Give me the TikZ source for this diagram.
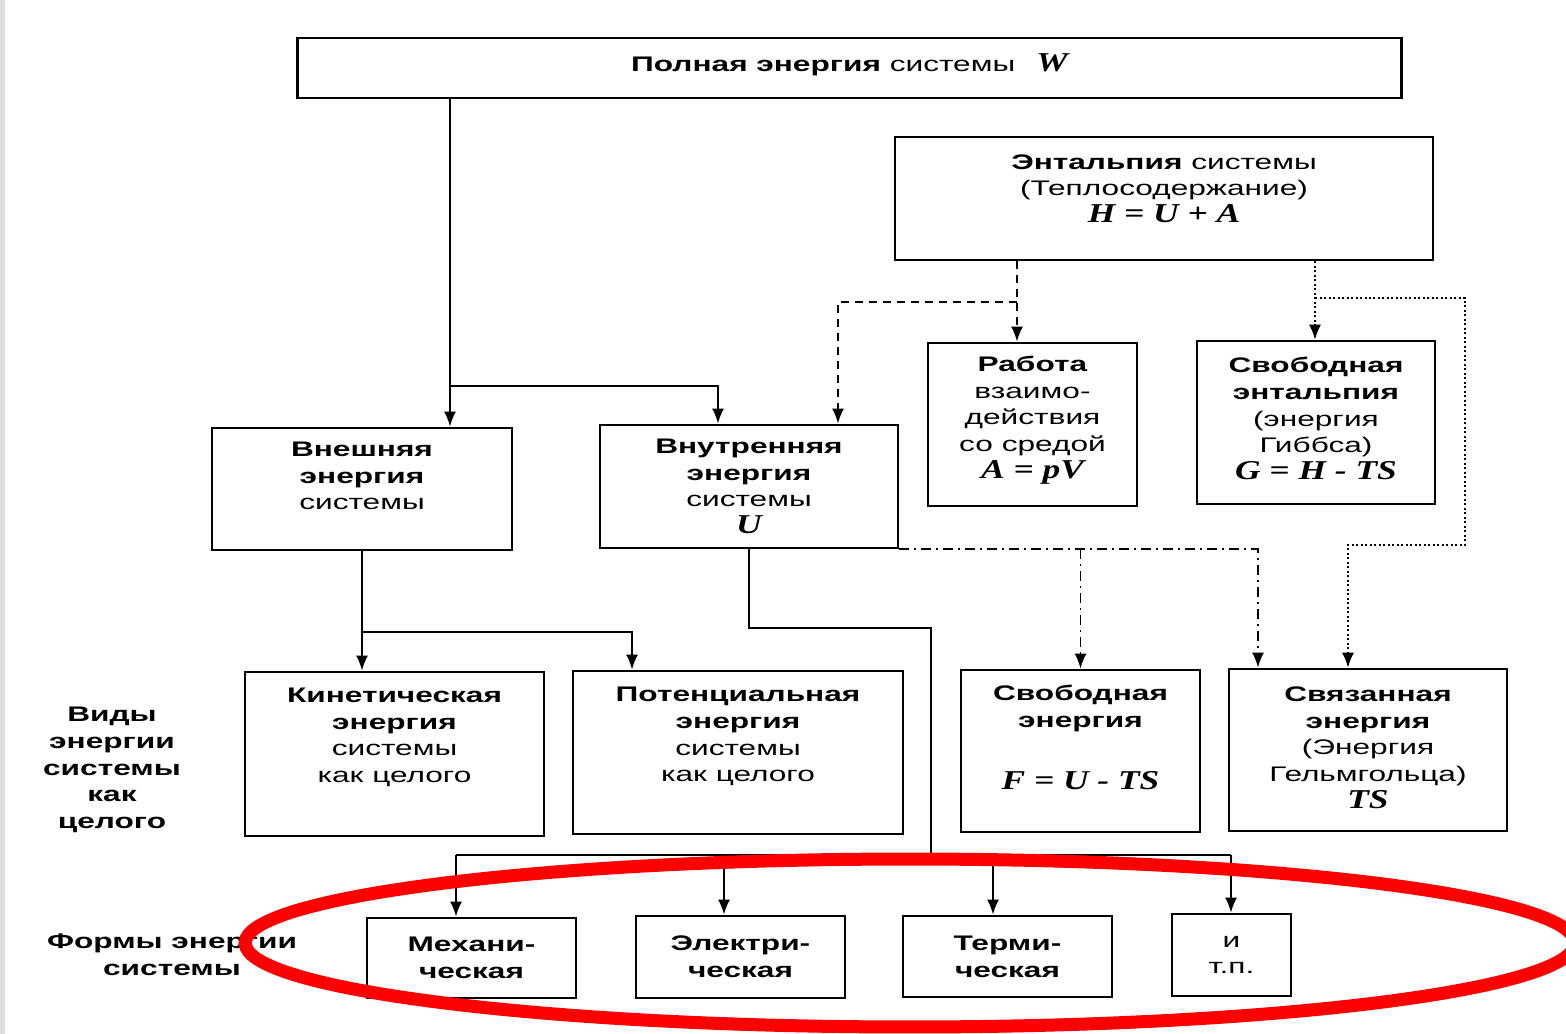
\documentclass[tikz,border=0pt]{standalone}
\usepackage{fontspec}
\setmainfont{Liberation Sans}[FakeStretch=1.5]
\newfontfamily\formfont{Liberation Serif}[FakeStretch=1.3]
\usepackage{tikz}
\usetikzlibrary{arrows.meta}
\newcommand{\fml}[1]{{\formfont\bfseries\itshape\fontsize{15.5}{16}\selectfont #1}}
\newcommand{\dn}[1]{\rule[-#1]{0pt}{0pt}}
\tikzset{
  box/.style={draw, line width=1.6pt, align=center, inner sep=0pt, font=\fontsize{12}{15.2}\selectfont},
  lab/.style={align=center, font=\bfseries\fontsize{12}{15.2}\selectfont},
  line/.style={line width=1.1pt},
  con/.style={line, -{Latex[length=0.3cm, width=0.24cm]}},
  dashcon/.style={con, dash pattern=on 0.16cm off 0.12cm},
  dotcon/.style={con, line width=0.9pt, dash pattern=on 0.04cm off 0.05cm},
  dashdotcon/.style={con, dash pattern=on 0.2cm off 0.1cm on 0.04cm off 0.1cm},
}

\begin{document}
\begin{tikzpicture}[x=0.02cm, y=-0.02cm]
	\useasboundingbox (0,0) rectangle (1566,1034);
	\clip (0,0) rectangle (1566,1034);
	\fill[gray!25] (0,0) rectangle (5,1034);
	% boxes
	\node[box, minimum width=22.1cm, minimum height=1.2cm] (full) at (849.5,68) {\textbf{Полная энергия} системы\quad\fml{W}\dn{0.2cm}};
	\node[box, minimum width=10.76cm, minimum height=2.46cm] (enth) at (1164,198.5) {\textbf{Энтальпия} системы\\(Теплосодержание)\\\fml{H = U + A}\dn{0.4cm}};
	\node[box, minimum width=4.18cm, minimum height=3.26cm] (work) at (1032.5,424.5) {\textbf{Работа}\\взаимо-\\действия\\со средой\\\fml{A = pV}\dn{0.3cm}};
	\node[box, minimum width=4.76cm, minimum height=3.26cm] (gibbs) at (1316,422.5) {\textbf{Свободная}\\\textbf{энтальпия}\\(энергия\\Гиббса)\\\fml{G = H - TS}\dn{0.16cm}};
	\node[box, minimum width=6cm, minimum height=2.44cm] (ext) at (362,489) {\textbf{Внешняя}\\\textbf{энергия}\\системы\dn{0.52cm}};
	\node[box, minimum width=5.96cm, minimum height=2.46cm] (int) at (749,486.5) {\textbf{Внутренняя}\\\textbf{энергия}\\системы\\\fml{U}};
	\node[box, minimum width=5.98cm, minimum height=3.28cm] (kin) at (394.5,754) {\textbf{Кинетическая}\\\textbf{энергия}\\системы\\как целого\dn{0.75cm}};
	\node[box, minimum width=6.6cm, minimum height=3.26cm] (pot) at (738,752.5) {\textbf{Потенциальная}\\\textbf{энергия}\\системы\\как целого\dn{0.72cm}};
	\node[box, minimum width=4.78cm, minimum height=3.24cm] (free) at (1080.5,751) {\textbf{Свободная}\\\textbf{энергия}\\[0.7cm]\fml{F = U - TS}\dn{0.55cm}};
	\node[box, minimum width=5.56cm, minimum height=3.24cm] (bound) at (1368,750) {\textbf{Связанная}\\\textbf{энергия}\\(Энергия\\Гельмгольца)\\\fml{TS}\dn{0.1cm}};
	\node[box, minimum width=4.18cm, minimum height=1.6cm] (mech) at (471.5,958) {\textbf{Механи-}\\\textbf{ческая}};
	\node[box, minimum width=4.18cm, minimum height=1.64cm] (elec) at (740.5,957) {\textbf{Электри-}\\\textbf{ческая}};
	\node[box, minimum width=4.18cm, minimum height=1.62cm] (therm) at (1007.5,956.5) {\textbf{Терми-}\\\textbf{ческая}};
	\node[box, minimum width=2.38cm, minimum height=1.64cm] (etc) at (1231.5,955) {и\\т.п.};
	% side labels
	\node[lab] (kinds) at (112,770) {Виды\\энергии\\системы\\как\\целого};
	\node[lab] (forms) at (172,955) {Формы энергии\\системы};
	% junctions
	\coordinate (jw) at (450,386);
	\coordinate (je) at (1017,302);
	\coordinate (jg) at (1315,298);
	\coordinate (jx) at (362,632);
	\coordinate (bus) at (931,855);
	% solid connectors
	\draw[con] (full.south -| jw) -- (jw |- ext.north);
	\draw[con] (jw) -| (718,0 |- int.north);
	\draw[con] (ext.south) -- (ext.south |- kin.north);
	\draw[con] (jx) -| (632,0 |- pot.north);
	\draw[line] (int.south) |- (bus |- 0,628) -- (bus);
	\draw[line] (bus -| 456,0) -- (bus -| 1231,0);
	\foreach \b/\x in {mech/456, elec/724, therm/993, etc/1231}
		\draw[con] (\x,855) -- (\x,0 |- \b.north);
	% dashed and dotted connectors
	\draw[dashcon] (enth.south -| je) -- (je |- work.north);
	\draw[dashcon] (je) -| (838,0 |- int.north);
	\draw[dotcon] (enth.south -| jg) -- (jg |- gibbs.north);
	\draw[dotcon] (jg) -- (1465,298) |- (1348,545) -- (1348,0 |- bound.north);
	\draw[dashdotcon] (int.south east) -| (1258,0 |- bound.north);
	\draw[dashdotcon] (free.north |- int.south) -- (free.north);
	% red mark
	\draw[red, line width=0.26cm] (910,943) ellipse [x radius=13.3cm, y radius=1.68cm];
\end{tikzpicture}
\end{document}
